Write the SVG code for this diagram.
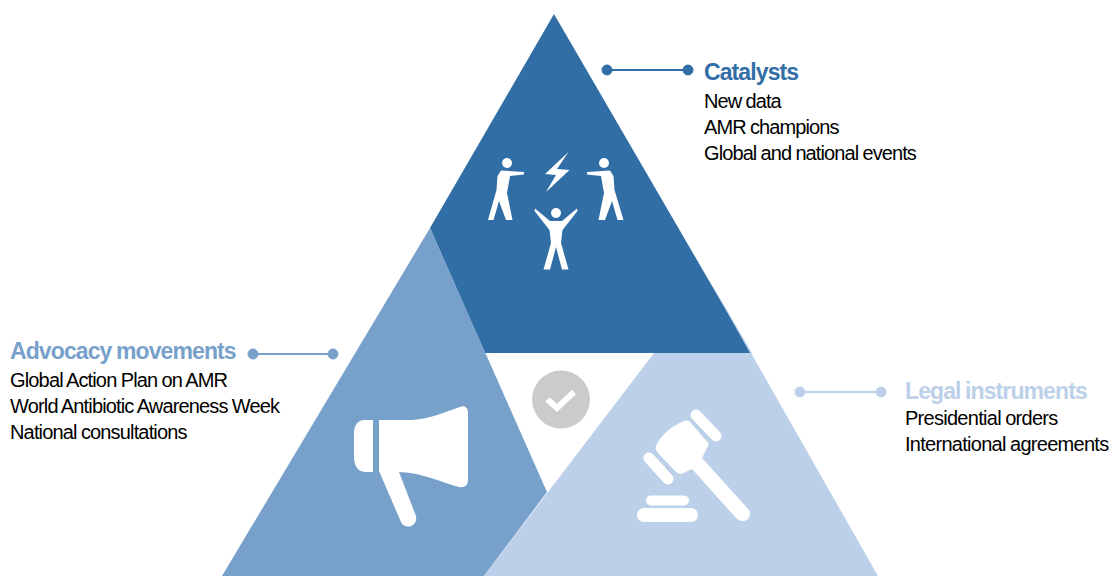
<svg xmlns="http://www.w3.org/2000/svg" width="1112" height="576" viewBox="0 0 1112 576">
<style>
text{font-family:"Liberation Sans",Arial,sans-serif}
.b{font-size:20px;fill:#000;letter-spacing:-.9px;word-spacing:-.5px}
.h{font-size:23px;font-weight:700;letter-spacing:-.9px;word-spacing:-1px}
#legal-text .b{letter-spacing:-.72px}
#advocacy-text .b{letter-spacing:-.84px}
.w{fill:#fff}
.c{fill:none;stroke-width:2}
.bar{fill:none;stroke:#fff;stroke-width:11;stroke-linecap:round}
</style>
<rect width="1112" height="576" fill="#fff"/>
<g id="connectors">
<g fill="#316ea6" stroke="#316ea6"><path class="c" d="M607 70H688"/><circle cx="607" cy="70" r="5"/><circle cx="688" cy="70" r="5"/></g>
<g fill="#77a0cb" stroke="#77a0cb"><path class="c" d="M253 354H333"/><circle cx="253" cy="354" r="5"/><circle cx="333" cy="354" r="5"/></g>
<g fill="#bcd0e9" stroke="#bcd0e9"><path class="c" d="M800 392H881"/><circle cx="800" cy="392" r="5"/><circle cx="881" cy="392" r="5"/></g>
</g>
<g id="catalysts">
<polygon points="554,14 751,353 485,353 430,228" fill="#316ea6"/>
<polygon points="709,279 752.500,354 750,353" fill="#bcd0e9"/>
<g class="w">
<path d="M568.500 152L545 174L556 175L546 192L569.500 170L557 169Z"/>
<circle cx="507" cy="163" r="5"/>
<path d="M501 170.500L524 172V174.500L510 176L507 193L512.500 220H506L499 201L493.500 220H488L496.500 190L497.500 176Z"/>
<circle cx="604" cy="163" r="5"/>
<path d="M610 170.500L587 172V174.500L601 176L604 193L598.500 220H605L612 201L617.500 220H623.500L614.500 190L613.500 176Z"/>
<circle cx="556" cy="213" r="5"/>
<path d="M535 208.500L550 221H562L577 208.500L577.500 211L562.500 230L561 243L568.500 269.500H562L556 247L550 269.500H543.500L551 243L549.500 230L534.500 211Z"/>
</g>
</g>
<g id="advocacy">
<polygon points="430,228 547,492 484,576 222,576" fill="#77a0cb"/>
<g class="w">
<path d="M373 420H364C358 420 354 426 354 432V457C354 466 358 472 366 472H373Z"/>
<path d="M379 420H412C430 419 445 412 460 407C465 405 468 408 468 413V480C468 485 465 488 459 487C445 484 425 473 399 472L416 516C418 527 405 530 401 522L379 471Z"/>
</g>
</g>
<g id="legal">
<polygon points="654,353 751,353 878,576 484,576" fill="#bcd0e9"/>
<g class="w">
<path class="bar" d="M696 415L716 436"/>
<path class="bar" d="M649 458L668 479"/>
<path d="M684 421C687 420 689 420 691 423L709 444L702 458L749 510C752 516 748 521 743 521C740 521 738 520 736 518L692 469L681 474C679 474 677 473 675 471L658 453C655 449 655 447 657 444C662 434 672 426 684 421Z"/>
<rect x="646" y="495.500" width="43" height="10" rx="5"/>
<rect x="637" y="508" width="61" height="14" rx="7"/>
</g>
</g>
<g id="center">
<circle cx="561" cy="399.500" r="29" fill="#cbcbcb"/>
<path d="M547.500 399.500L557 408L574 392" fill="none" stroke="#fff" stroke-width="6"/>
</g>
<g id="catalysts-text">
<text class="h" x="704" y="80" fill="#316ea6">Catalysts</text>
<text class="b" x="704" y="108">New data</text>
<text class="b" x="704" y="134">AMR champions</text>
<text class="b" x="704" y="160">Global and national events</text>
</g>
<g id="advocacy-text">
<text class="h" x="10" y="359" fill="#77a0cb">Advocacy movements</text>
<text class="b" x="10" y="387">Global Action Plan on AMR</text>
<text class="b" x="10" y="413">World Antibiotic Awareness Week</text>
<text class="b" x="10" y="439">National consultations</text>
</g>
<g id="legal-text">
<text class="h" x="905" y="399" fill="#bcd0e9">Legal instruments</text>
<text class="b" x="905" y="425">Presidential orders</text>
<text class="b" x="905" y="451">International agreements</text>
</g>
</svg>
